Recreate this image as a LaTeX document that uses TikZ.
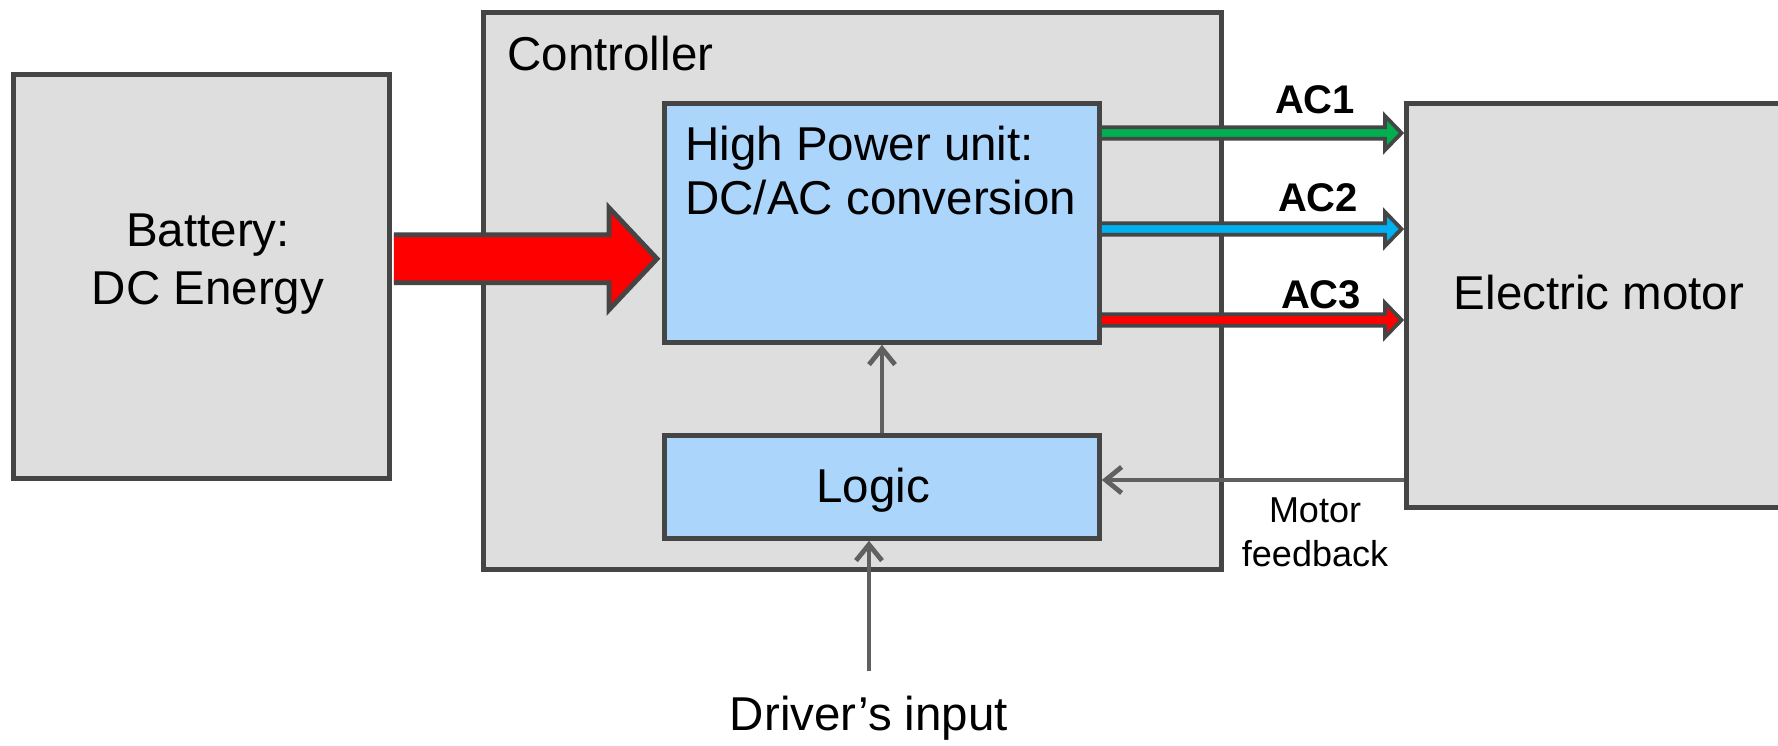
\documentclass[tikz,border=0pt]{standalone}
\usepackage{fontspec}
\setmainfont{Liberation Sans}
\usetikzlibrary{arrows.meta,calc}
\definecolor{boxgray}{HTML}{DEDEDE}
\definecolor{edge}{HTML}{454545}
\definecolor{lblue}{HTML}{ABD5FB}
\definecolor{conn}{HTML}{606060}
\definecolor{acgreen}{HTML}{00B050}
\definecolor{acblue}{HTML}{00B0F0}
\definecolor{acred}{HTML}{FF0000}
\newcommand\acarrow[3]{%
  \coordinate (s#3) at (hp.east |- 0,#2);
  \coordinate (e#3) at (motor.west |- 0,#2);
  \filldraw[fill=#1,draw=edge,line width=1.9pt,miter limit=10]
    ($(s#3)+(0,-5.75)$) -- ($(e#3)+(-19,-5.75)$) -- ($(e#3)+(-19,-17)$)
    -- ($(e#3)+(-2.5,0)$) -- ($(e#3)+(-19,17)$) -- ($(e#3)+(-19,5.75)$)
    -- ($(s#3)+(0,5.75)$);
}
\begin{document}
\begin{tikzpicture}[x=0.5pt,y=-0.5pt,
  graybox/.style={draw=edge,fill=boxgray,line width=2.4pt,rectangle,inner sep=0pt,anchor=north west},
  bluebox/.style={draw=edge,fill=lblue,line width=2.4pt,rectangle,inner sep=0pt,anchor=north west},
  txt/.style={font=\fontsize{23.75}{29}\selectfont,align=center,inner sep=0pt},
  actxt/.style={font=\fontsize{20}{24}\selectfont\bfseries,inner sep=0pt},
  smalltxt/.style={font=\fontsize{18}{22}\selectfont,align=center,inner sep=0pt},
  flow/.style={draw=conn,line width=2.4pt,-{Straight Barb[length=8pt,width=13pt,line width=2.4pt]}}]
\useasboundingbox (0,0) rectangle (1778,745);

% boxes
\node[graybox,minimum width=188pt,minimum height=202pt] (bat) at (11,72) {};
\node[graybox,minimum width=369pt,minimum height=278.5pt] (ctrl) at (481,10) {};
\node[bluebox,minimum width=217.5pt,minimum height=119.5pt] (hp) at (662,101) {};
\node[bluebox,minimum width=217.5pt,minimum height=51.5pt] (logic) at (662,433) {};
\node[graybox,minimum width=196.5pt,minimum height=202pt] (motor) at (1404,101) {};

% texts
\node[txt] (battxt) at (208,264) {Battery:\\DC Energy};
\node[txt,anchor=west] (ctrltxt) at (507,54) {Controller};
\node[txt,anchor=west,align=left,font=\fontsize{23.75}{27}\selectfont] (hptxt) at (685,171) {High Power unit:\\DC/AC conversion};
\node[txt] (logictxt) at (873,490) {Logic};
\node[txt] (motortxt) at (1599,293) {Electric motor};
\node[actxt] (ac1) at (1315,100) {AC1};
\node[actxt] (ac2) at (1318,198) {AC2};
\node[actxt] (ac3) at (1321,295) {AC3};
\node[smalltxt] (fbtxt) at (1315,532) {Motor\\feedback};
\node[txt] (drv) at (869,718) {Driver’s input};

% big DC arrow
\coordinate (ra) at (bat.east |- 0,258.75);
\filldraw[fill=acred,draw=edge,line width=2.4pt,miter limit=10]
  ($(ra)+(2,-24)$) -- ($(hp.west |- ra)+(-53,-24)$) -- ($(hp.west |- ra)+(-53,-51)$)
  -- ($(hp.west |- ra)+(-5,0)$) -- ($(hp.west |- ra)+(-53,51)$) -- ($(hp.west |- ra)+(-53,24)$)
  -- ($(ra)+(2,24)$);

% AC arrows
\acarrow{acgreen}{133}{1}
\acarrow{acblue}{229}{2}
\acarrow{acred}{320}{3}

% control connectors
\coordinate (cx) at (882,0);
\coordinate (fy) at (0,480);
\draw[flow] (cx |- logic.north) -- (cx |- hp.south);
\draw[flow] (motor.west |- fy) -- (logic.east |- fy);
\draw[flow,shorten <=12pt] (drv.north) -- (drv.north |- logic.south);
\end{tikzpicture}
\end{document}
